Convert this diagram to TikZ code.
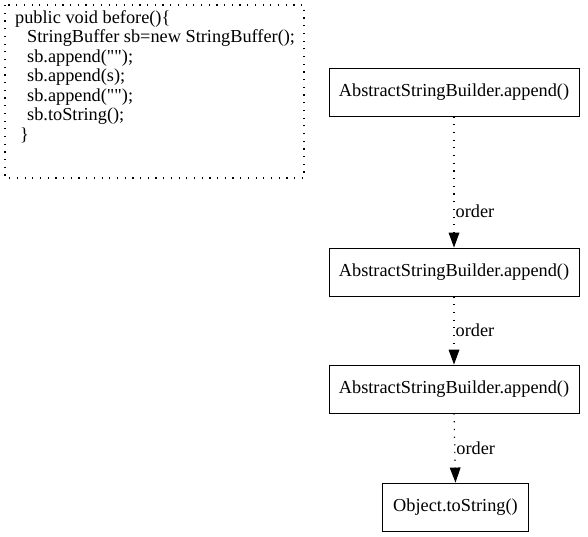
\documentclass[tikz,border=0pt]{standalone}
\usepackage{fontspec}
\setmainfont{Liberation Serif}[Ligatures=TeXOff]
\usetikzlibrary{arrows.meta}
\begin{document}
\begin{tikzpicture}[x=1pt,y=-1pt,
  every node/.style={font=\fontsize{18.3}{22}\selectfont},
  box/.style={draw,line width=0.9pt,minimum height=48pt,inner sep=0pt},
  codeline/.style={anchor=base west,inner sep=0pt},
  dotline/.style={line width=1.2pt,dash pattern=on 1.2pt off 6.5pt},
  flow/.style={dotline,-{Triangle[width=11pt,length=15pt,line width=0pt]}},
  lbl/.style={anchor=west,inner sep=1pt}]
\useasboundingbox (0,0) rectangle (588,536);
\draw[dotline] (5,5) rectangle (304,178);
\node[codeline] (c1) at (15,23) {public void before()\{};
\node[codeline] (c2) at (27,42.5) {StringBuffer sb=new StringBuffer();};
\node[codeline] (c3) at (27,62) {sb.append("");};
\node[codeline] (c4) at (27,81.5) {sb.append(s);};
\node[codeline] (c5) at (27,101) {sb.append("");};
\node[codeline] (c6) at (27,120.5) {sb.toString();};
\node[codeline] (c7) at (20,140) {\}};
\node[box,minimum width=250pt] (b1) at (454,92) {AbstractStringBuilder.append()};
\node[box,minimum width=250pt] (b2) at (454,272) {AbstractStringBuilder.append()};
\node[box,minimum width=250pt] (b3) at (454,389) {AbstractStringBuilder.append()};
\node[box,minimum width=146pt] (b4) at (455.5,507) {Object.toString()};
\draw[flow] (b1.south) -- (b2.north) node[lbl,pos=0.72] (o1) {order};
\draw[flow] (b2.south) -- (b3.north) node[lbl,pos=0.5] (o2) {order};
\draw[flow] (b3.south) -- (b4.north) node[lbl,pos=0.5] (o3) {order};
\end{tikzpicture}
\end{document}
